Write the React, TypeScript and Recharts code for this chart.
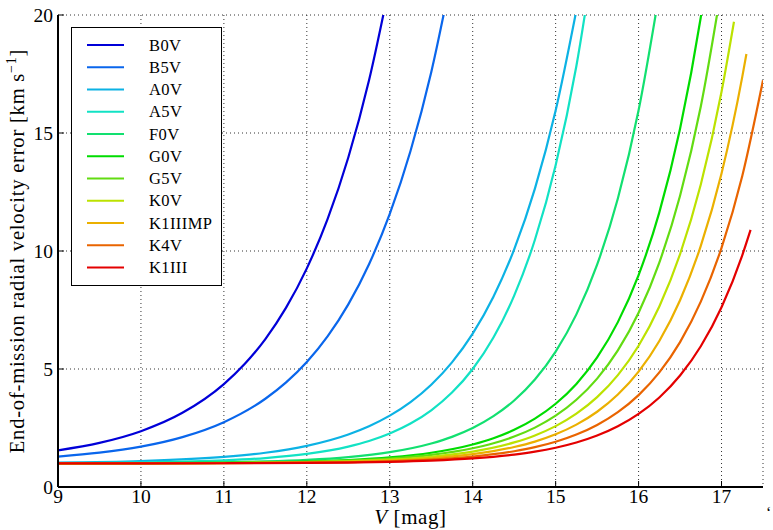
import React from 'react';
import { LineChart, Line, XAxis, YAxis, CartesianGrid } from 'recharts';

// Spectral types, in legend order, with their line colours
const SPECTRAL_TYPES = ['B0V', 'B5V', 'A0V', 'A5V', 'F0V', 'G0V', 'G5V', 'K0V', 'K1IIIMP', 'K4V', 'K1III'];
const LINE_COLORS = [
    '#0000d8', '#0a66ec', '#0cb2e4', '#12e2c4', '#12e070', '#00dc00',
    '#62dc12', '#bce200', '#ebb000', '#e96400', '#e40000',
];

// V magnitude samples and end-of-mission RV error (km/s) for each type
const MAG_B0V = [9, 9.5, 10, 10.5, 11, 11.25, 11.5, 11.75, 12, 12.25, 12.5, 12.75, 13];
const ERR_B0V = [1.555, 1.871, 2.366, 3.143, 4.36, 5.208, 6.27, 7.6, 9.265, 11.35, 13.962, 17.233, 21.33];

const MAG_B5V = [9, 9.5, 10, 10.5, 11, 11.5, 11.75, 12, 12.25, 12.5, 12.75, 13, 13.25, 13.5, 13.75];
const ERR_B5V = [1.289, 1.453, 1.71, 2.114, 2.747, 3.74, 4.432, 5.298, 6.382, 7.74, 9.441, 11.571, 14.238, 17.578, 21.761];

const MAG_A0V = [9, 10, 11, 11.5, 12, 12.5, 12.75, 13, 13.25, 13.5, 13.75, 14, 14.25, 14.5, 14.75, 15, 15.25];
const ERR_A0V = [1.037, 1.101, 1.274, 1.451, 1.744, 2.227, 2.576, 3.023, 3.598, 4.336, 5.283, 6.5, 8.062, 10.068, 12.644, 15.951, 20.197];

const MAG_A5V = [9, 10, 11, 11.5, 12, 12.5, 12.75, 13, 13.25, 13.5, 13.75, 14, 14.25, 14.5, 14.75, 15, 15.25, 15.5];
const ERR_A5V = [1.013, 1.04, 1.127, 1.226, 1.401, 1.713, 1.95, 2.267, 2.688, 3.251, 4.001, 5.0, 6.332, 8.109, 10.476, 13.633, 17.841, 23.45];

const MAG_F0V = [9, 10, 11, 11.5, 12, 12.5, 13, 13.5, 13.75, 14, 14.25, 14.5, 14.75, 15, 15.25, 15.5, 15.75, 16, 16.25];
const ERR_F0V = [1.005, 1.015, 1.048, 1.085, 1.15, 1.267, 1.475, 1.844, 2.125, 2.5, 3.0, 3.666, 4.554, 5.737, 7.315, 9.419, 12.223, 15.961, 20.945];

const MAG_G0V = [9, 10, 11, 12, 12.5, 13, 13.5, 14, 14.25, 14.5, 14.75, 15, 15.25, 15.5, 15.75, 16, 16.25, 16.5, 16.75, 17];
const ERR_G0V = [1.003, 1.008, 1.025, 1.08, 1.143, 1.253, 1.45, 1.8, 2.066, 2.422, 2.895, 3.527, 4.368, 5.49, 6.986, 8.979, 11.637, 15.18, 19.904, 26.2];

const MAG_G5V = [9, 10, 11, 12, 12.5, 13, 13.5, 14, 14.25, 14.5, 14.75, 15, 15.25, 15.5, 15.75, 16, 16.25, 16.5, 16.75, 17];
const ERR_G5V = [1.002, 1.006, 1.02, 1.064, 1.114, 1.203, 1.36, 1.64, 1.853, 2.137, 2.516, 3.021, 3.695, 4.592, 5.788, 7.383, 9.51, 12.344, 16.123, 21.16];

const MAG_K0V = [9, 10, 11, 12, 12.5, 13, 13.5, 14, 14.5, 14.75, 15, 15.25, 15.5, 15.75, 16, 16.25, 16.5, 16.75, 17, 17.15];
const ERR_K0V = [1.002, 1.005, 1.016, 1.05, 1.089, 1.158, 1.281, 1.5, 1.889, 2.185, 2.579, 3.105, 3.806, 4.741, 5.987, 7.648, 9.863, 12.815, 16.75, 19.716];

const MAG_K1IIIMP = [9, 10, 11, 12, 12.5, 13, 13.5, 14, 14.5, 14.75, 15, 15.25, 15.5, 15.75, 16, 16.25, 16.5, 16.75, 17, 17.25, 17.3];
const ERR_K1IIIMP = [1.001, 1.004, 1.012, 1.039, 1.069, 1.123, 1.219, 1.39, 1.693, 1.924, 2.232, 2.642, 3.189, 3.918, 4.89, 6.186, 7.913, 10.216, 13.285, 17.377, 18.346];

const MAG_K4V = [9, 10, 11, 12, 12.5, 13, 13.5, 14, 14.5, 14.75, 15, 15.25, 15.5, 15.75, 16, 16.25, 16.5, 16.75, 17, 17.25, 17.5];
const ERR_K4V = [1.001, 1.003, 1.009, 1.029, 1.052, 1.092, 1.163, 1.29, 1.515, 1.687, 1.916, 2.221, 2.628, 3.17, 3.893, 4.856, 6.14, 7.853, 10.135, 13.178, 17.234];

const MAG_K1III = [9, 10, 11, 12, 12.5, 13, 13.5, 14, 14.5, 14.75, 15, 15.25, 15.5, 15.75, 16, 16.25, 16.5, 16.75, 17, 17.25, 17.35];
const ERR_K1III = [1.001, 1.002, 1.007, 1.021, 1.037, 1.066, 1.118, 1.21, 1.373, 1.497, 1.663, 1.884, 2.179, 2.571, 3.095, 3.792, 4.722, 5.962, 7.615, 9.819, 10.893];

const CURVES: [number[], number[]][] = [
    [MAG_B0V, ERR_B0V], [MAG_B5V, ERR_B5V], [MAG_A0V, ERR_A0V], [MAG_A5V, ERR_A5V],
    [MAG_F0V, ERR_F0V], [MAG_G0V, ERR_G0V], [MAG_G5V, ERR_G5V], [MAG_K0V, ERR_K0V],
    [MAG_K1IIIMP, ERR_K1IIIMP], [MAG_K4V, ERR_K4V], [MAG_K1III, ERR_K1III],
];

const X_TICKS = [9, 10, 11, 12, 13, 14, 15, 16, 17];
const Y_TICKS = [0, 5, 10, 15, 20];

const FONT = '"Liberation Serif", "DejaVu Serif", serif';

const series = SPECTRAL_TYPES.map((name, i) => ({
    name,
    color: LINE_COLORS[i],
    points: CURVES[i][0].map((v, j) => ({ v, err: CURVES[i][1][j] })),
}));

const XLabel = ({ viewBox }: any) => {
    const cx = viewBox.x + viewBox.width / 2;
    return (
        <text x={cx} y={524} textAnchor="middle" fontFamily={FONT} fontSize={21} letterSpacing={0.6} fill="#000">
            <tspan fontStyle="italic">V</tspan>
            <tspan> [mag]</tspan>
        </text>
    );
};

const YLabel = ({ viewBox }: any) => {
    const cy = viewBox.y + viewBox.height / 2;
    return (
        <text
            x={0}
            y={0}
            transform={`translate(24, ${cy}) rotate(-90)`}
            textAnchor="middle"
            fontFamily={FONT}
            fontSize={20.5}
            letterSpacing={0.8}
            fill="#000"
        >
            <tspan>End-of-mission radial velocity error [km s</tspan>
            <tspan dy={-8} fontSize={14}>−1</tspan>
            <tspan dy={8}>]</tspan>
        </text>
    );
};

// legend box in the upper-left corner of the axes
const LegendBox = () => (
    <div
        style={{
            position: 'absolute',
            left: 71,
            top: 27,
            width: 149,
            height: 257,
            border: '1px solid #000',
            background: '#fff',
        }}
    >
        <svg width={149} height={257}>
            {series.map((s, i) => {
                const y = 17 + i * 22.25;
                return (
                    <g key={s.name}>
                        <line x1={15} x2={52} y1={y} y2={y} stroke={s.color} strokeWidth={2.2} />
                        <text x={77} y={y + 5.5} fontFamily={FONT} fontSize={16.5} letterSpacing={0.4} fill="#000">
                            {s.name}
                        </text>
                    </g>
                );
            })}
        </svg>
    </div>
);

export default function App() {
    return (
        <div style={{ position: 'absolute', left: 0, top: 0, width: 773, height: 530, background: '#fff' }}>
            <LineChart width={773} height={530} margin={{ top: 15, right: 10, left: 0, bottom: 0 }}>
                <CartesianGrid stroke="#333" strokeDasharray="1 3" strokeWidth={1} />
                <XAxis
                    type="number"
                    dataKey="v"
                    domain={[9, 17.5]}
                    ticks={X_TICKS}
                    allowDataOverflow
                    height={43}
                    tickSize={-6}
                    tickMargin={8}
                    axisLine={{ stroke: '#000', strokeWidth: 2 }}
                    tickLine={{ stroke: '#000', strokeWidth: 1 }}
                    tick={{ fill: '#000', fontSize: 19.5, fontFamily: FONT }}
                    label={<XLabel />}
                />
                <XAxis
                    xAxisId="top"
                    orientation="top"
                    type="number"
                    dataKey="v"
                    domain={[9, 17.5]}
                    ticks={X_TICKS}
                    allowDataOverflow
                    height={0}
                    tickSize={-6}
                    tick={false}
                    axisLine={{ stroke: '#000', strokeWidth: 2 }}
                    tickLine={{ stroke: '#000', strokeWidth: 1 }}
                />
                <YAxis
                    type="number"
                    domain={[0, 20]}
                    ticks={Y_TICKS}
                    allowDataOverflow
                    width={58}
                    tickSize={-6}
                    tickMargin={11}
                    axisLine={{ stroke: '#000', strokeWidth: 2 }}
                    tickLine={{ stroke: '#000', strokeWidth: 1 }}
                    tick={{ fill: '#000', fontSize: 19.5, fontFamily: FONT }}
                    label={<YLabel />}
                />
                <YAxis
                    yAxisId="right"
                    orientation="right"
                    type="number"
                    domain={[0, 20]}
                    ticks={Y_TICKS}
                    allowDataOverflow
                    width={0}
                    tickSize={-6}
                    tick={false}
                    axisLine={{ stroke: '#000', strokeWidth: 2 }}
                    tickLine={{ stroke: '#000', strokeWidth: 1 }}
                />
                {series.map((s) => (
                    <Line
                        key={s.name}
                        data={s.points}
                        dataKey="err"
                        name={s.name}
                        type="monotone"
                        stroke={s.color}
                        strokeWidth={2.2}
                        dot={false}
                        activeDot={false}
                        isAnimationActive={false}
                    />
                ))}
            </LineChart>
            <LegendBox />
            <span
                style={{
                    position: 'absolute',
                    left: 766,
                    top: 505,
                    fontFamily: FONT,
                    fontSize: 16,
                    lineHeight: '16px',
                }}
            >
                ‘
            </span>
        </div>
    );
}
